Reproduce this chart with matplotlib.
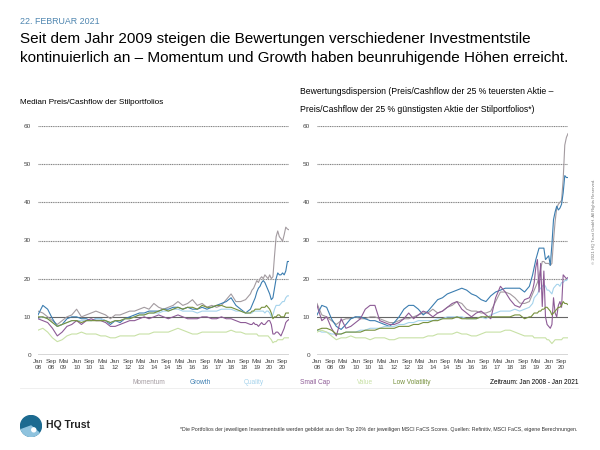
import matplotlib
matplotlib.use("Agg")
import matplotlib.pyplot as plt
from matplotlib.patches import Circle, Wedge

plt.rcParams['font.family'] = ['Liberation Sans', 'DejaVu Sans']

# Zeitachse in Monaten seit Jan 2008: bis Okt 2018 quartalsweise, danach monatlich
months = list(range(0, 132, 3)) + list(range(132, 157))

tick_months = list(range(0, 153, 8))
tick_labels = ["Jan\n08", "Sep\n08", "Mai\n09", "Jan\n10", "Sep\n10", "Mai\n11", "Jan\n12",
               "Sep\n12", "Mai\n13", "Jan\n14", "Sep\n14", "Mai\n15", "Jan\n16", "Sep\n16",
               "Mai\n17", "Jan\n18", "Sep\n18", "Mai\n19", "Jan\n20", "Sep\n20"]
y_ticks = [0, 10, 20, 30, 40, 50, 60]

styles = ["Momentum", "Growth", "Quality", "Small Cap", "Value", "Low Volatility"]
colors = ["#a39ba0", "#3b7db0", "#a5d3ec", "#8d5b96", "#c8e1a6", "#76903c"]

# --- linkes Chart: Median Preis/Cashflow ---
mom_l = [11.5, 11.0, 10.0, 9.0, 8.0, 9.0, 10.0, 10.5, 12.0, 10.0, 10.5, 11.0,
         11.5, 11.0, 10.5, 9.5, 10.5, 10.5, 11.0, 11.5, 11.5, 12.0, 12.5, 12.0,
         13.5, 12.5, 12.0, 12.5, 13.0, 14.0, 13.0, 13.5, 14.5, 13.0, 13.5, 12.5,
         13.0, 12.5, 13.0, 14.5, 16.0, 14.0, 14.0, 14.5,
         16.0, 17.0, 17.5, 18.5, 19.5, 19.0, 20.0, 20.5, 20.0, 21.0, 20.5, 20.0,
         21.0, 20.0, 20.5, 26.0, 31.0, 32.5, 31.0, 30.5, 29.8, 31.5, 33.5, 33.0,
         32.8]
growth_l = [10.5, 13.0, 12.0, 9.5, 7.5, 8.0, 9.5, 10.0, 10.0, 9.5, 9.5, 9.0,
            9.5, 9.5, 9.0, 8.0, 9.0, 8.5, 9.5, 10.0, 10.5, 11.0, 11.0, 11.5,
            11.5, 11.5, 12.0, 12.0, 12.5, 12.5, 12.0, 12.5, 12.0, 12.0, 12.5, 12.0,
            12.5, 13.0, 13.5, 14.0, 15.0, 13.0, 12.0, 11.0,
            12.0, 13.0, 14.0, 15.0, 16.5, 17.5, 18.0, 19.0, 19.5, 19.0, 18.0, 17.0,
            16.0, 14.5, 15.0, 17.5, 20.0, 21.5, 21.0, 21.0, 21.5, 21.0, 22.0, 24.5,
            24.5]
quality_l = [9.5, 10.0, 9.5, 8.5, 7.5, 8.0, 8.5, 9.0, 9.0, 9.0, 9.0, 9.0,
             9.5, 9.5, 9.0, 8.5, 9.0, 9.0, 9.5, 9.5, 10.0, 10.5, 10.5, 11.0,
             11.0, 11.0, 11.5, 11.5, 12.0, 12.0, 11.5, 11.5, 11.5, 11.0, 11.5, 11.5,
             11.5, 11.5, 12.0, 12.0, 12.0, 11.5, 11.5, 11.0,
             11.0, 11.0, 11.5, 11.5, 11.5, 11.5, 11.5, 11.5, 11.5, 11.0, 11.5, 11.5,
             11.0, 10.0, 10.5, 12.0, 13.0, 13.0, 13.0, 13.5, 14.0, 14.0, 15.0, 15.5,
             15.5]
small_l = [9.5, 9.0, 8.5, 7.0, 5.0, 6.0, 7.5, 8.0, 9.0, 8.0, 9.0, 9.5,
           9.0, 9.0, 8.5, 7.5, 7.5, 8.0, 8.5, 9.0, 9.0, 9.5, 10.0, 9.5,
           10.0, 10.5, 10.0, 9.5, 10.0, 10.5, 10.0, 9.5, 9.5, 9.5, 10.0, 10.0,
           9.5, 9.5, 10.0, 9.5, 9.5, 9.0, 8.5, 8.5,
           8.0, 8.0, 8.5, 8.0, 8.0, 7.5, 8.0, 8.5, 8.0, 8.0, 8.5, 9.0,
           9.0, 8.0, 5.5, 5.5, 6.0, 6.0, 5.5, 5.0, 6.0, 7.0, 8.5, 9.0,
           9.3]
value_l = [6.5, 7.0, 6.0, 4.5, 3.5, 4.0, 5.0, 5.5, 5.5, 6.0, 5.5, 5.5,
           5.5, 5.0, 5.0, 4.5, 4.5, 5.0, 5.0, 5.0, 5.0, 5.5, 5.5, 5.5,
           6.0, 6.0, 6.0, 6.0, 6.5, 7.0, 6.5, 6.0, 5.5, 5.5, 6.0, 6.0,
           6.0, 6.0, 6.0, 6.0, 6.5, 6.0, 6.0, 5.5,
           5.5, 5.5, 5.5, 5.5, 5.5, 5.0, 5.0, 5.0, 5.0, 5.0, 5.0, 5.0,
           4.5, 4.0, 3.2, 3.5, 3.5, 4.0, 4.0, 4.0, 4.0, 4.5, 4.5, 4.5,
           4.5]
lowvol_l = [10.0, 10.0, 9.5, 8.5, 7.5, 8.0, 8.5, 9.0, 9.0, 8.5, 9.0, 9.0,
            9.0, 9.0, 9.0, 8.5, 9.0, 9.0, 9.5, 9.5, 10.0, 10.5, 10.5, 11.0,
            11.0, 11.5, 12.0, 11.5, 12.0, 12.5, 12.0, 12.5, 12.5, 12.0, 13.0, 12.5,
            12.5, 13.0, 13.0, 12.5, 12.5, 12.0, 11.5, 11.0,
            11.0, 11.5, 11.5, 12.0, 12.0, 12.0, 12.0, 12.5, 12.5, 12.5, 13.0, 12.5,
            12.0, 11.0, 9.5, 10.0, 10.0, 10.5, 10.5, 10.0, 10.0, 10.0, 11.0, 11.0,
            11.0]

# --- rechtes Chart: Bewertungsdispersion ---
mom_r = [13.5, 10.5, 10.0, 9.0, 8.0, 9.0, 9.5, 9.5, 10.0, 9.5, 9.5, 10.0,
         10.0, 9.5, 9.0, 8.5, 8.5, 9.0, 9.5, 9.5, 10.0, 10.5, 11.0, 11.0,
         12.0, 11.0, 11.5, 12.5, 13.0, 14.0, 13.5, 12.0, 11.5, 11.5, 11.0, 11.0,
         11.5, 14.0, 16.5, 16.5, 16.0, 15.0, 13.6, 13.5,
         14.0, 15.0, 16.0, 17.0, 18.0, 19.0, 20.5, 22.5, 24.5, 24.5, 24.0, 24.0,
         24.0, 23.5, 24.0, 30.0, 35.0, 38.5, 39.5, 40.0, 40.5, 46.0, 55.0, 57.0,
         58.0]
growth_r = [10.5, 13.0, 12.5, 9.5, 7.5, 6.7, 8.0, 9.5, 10.0, 10.0, 9.5, 9.0,
            9.0, 8.5, 8.0, 7.5, 8.5, 10.0, 12.0, 13.0, 13.0, 12.0, 10.5, 11.5,
            13.0, 14.5, 15.0, 16.0, 16.5, 17.0, 17.5, 17.0, 16.0, 15.5, 14.5, 14.0,
            15.5, 16.5, 17.0, 17.5, 17.5, 17.5, 17.5, 16.5,
            18.0, 19.5, 21.0, 23.0, 25.0, 26.5, 28.0, 28.0, 28.0, 28.0, 25.0, 25.5,
            26.0, 23.5, 29.0, 35.5, 37.5, 39.0, 38.0, 38.5, 39.5, 42.5, 47.0, 46.5,
            46.5]
quality_r = [6.5, 6.0, 6.0, 5.5, 5.5, 5.5, 6.0, 6.0, 6.0, 6.5, 6.5, 7.0,
             7.0, 7.0, 7.5, 7.5, 7.5, 8.0, 8.0, 8.5, 8.5, 9.0, 9.0, 9.0,
             9.0, 9.5, 9.5, 10.0, 10.0, 10.0, 10.0, 9.5, 9.5, 9.5, 10.0, 9.5,
             10.5, 11.0, 11.5, 11.5, 11.5, 12.0, 11.5, 12.0,
             12.5, 13.0, 13.5, 15.0, 15.5, 16.0, 17.0, 17.5, 18.0, 18.5, 18.0, 17.0,
             17.0, 16.5, 16.0, 17.5, 18.0, 18.5, 18.5, 18.0, 19.0, 19.0, 19.5, 19.5,
             20.0]
small_r = [13.0, 9.0, 10.0, 7.0, 5.0, 9.5, 7.0, 7.5, 8.5, 9.5, 12.0, 13.0,
           13.0, 9.0, 8.5, 8.0, 8.0, 8.5, 9.5, 11.0, 9.5, 10.5, 11.5, 11.0,
           10.0, 11.0, 11.5, 12.5, 13.5, 14.0, 12.0, 11.0, 10.0, 11.0, 11.5, 10.5,
           9.5, 15.0, 18.0, 16.5, 14.5, 13.0, 12.5, 14.5,
           15.0, 16.0, 17.0, 19.0, 23.0, 25.0, 16.5, 24.0, 12.7, 22.0, 10.0, 8.0,
           7.5, 7.0, 8.0, 15.0, 11.0, 10.0, 13.0, 14.0, 12.5, 21.0, 20.5, 20.0,
           20.3]
value_r = [6.0, 6.5, 6.0, 5.0, 4.0, 4.5, 4.5, 5.0, 4.5, 4.5, 4.5, 4.0,
           4.5, 4.5, 4.5, 4.0, 4.0, 4.5, 4.5, 4.5, 4.5, 4.5, 4.5, 5.0,
           5.0, 5.5, 5.5, 5.5, 5.5, 6.0, 5.5, 5.5, 5.0, 5.0, 5.5, 6.0,
           6.0, 6.0, 6.0, 6.5, 6.5, 6.0, 5.5, 5.0,
           5.0, 5.0, 5.0, 4.5, 4.5, 4.5, 4.5, 4.5, 4.5, 4.5, 4.5, 4.0,
           4.0, 3.5, 3.0, 3.5, 4.0, 4.0, 4.0, 4.0, 4.0, 4.5, 4.5, 4.5,
           4.5]
lowvol_r = [6.5, 7.0, 7.0, 6.5, 5.5, 5.5, 6.0, 6.0, 6.0, 6.0, 6.5, 6.5,
            6.5, 7.0, 7.0, 7.0, 7.0, 7.5, 7.5, 7.5, 8.0, 8.0, 8.5, 8.5,
            9.0, 9.0, 9.5, 9.5, 9.5, 10.0, 9.5, 9.5, 9.5, 9.5, 10.0, 10.0,
            10.0, 10.0, 10.0, 10.0, 10.0, 10.5, 10.5, 9.5,
            10.0, 10.0, 10.5, 11.0, 11.0, 11.0, 11.5, 11.5, 12.0, 12.0, 12.5, 12.5,
            12.0, 11.5, 10.5, 11.0, 11.5, 12.0, 12.5, 12.5, 13.0, 14.0, 13.5, 13.5,
            13.2]

W, H = 600, 450


def fx(px):
    return px / W


def fy(py):
    return 1 - py / H


def draw_panel(ax, series):
    for y in y_ticks:
        if y == 0:
            ax.axhline(y, color="#333333", lw=1.0, zorder=1)
        elif y == 10:
            ax.axhline(y, color="#666666", lw=0.8, zorder=1)
        else:
            ax.axhline(y, color="#858585", lw=0.8, ls=(0, (1, 0.6)), zorder=1)
    for vals, c in zip(series, colors):
        ax.plot(months, vals, color=c, lw=0.8, zorder=2)
    ax.set_xlim(0, 156)
    ax.set_ylim(0, 60)
    ax.set_yticks(y_ticks)
    ax.set_xticks(tick_months)
    ax.set_xticklabels(tick_labels, linespacing=1.3)
    ax.tick_params(length=0, labelsize=4.6, colors="#444444")
    ax.tick_params(axis="y", pad=5)
    ax.tick_params(axis="x", pad=3)
    for s in ax.spines.values():
        s.set_visible(False)
    ax.patch.set_alpha(0)


fig = plt.figure(figsize=(6, 4.5), dpi=100)

ax_l = fig.add_axes([fx(38), fy(355), fx(251), (355 - 126) / H])
ax_r = fig.add_axes([fx(317), fy(355), fx(251), (355 - 126) / H])
draw_panel(ax_l, [mom_l, growth_l, quality_l, small_l, value_l, lowvol_l])
draw_panel(ax_r, [mom_r, growth_r, quality_r, small_r, value_r, lowvol_r])

# Kopfzeilen
fig.text(fx(20), fy(22), "22. FEBRUAR 2021", fontsize=6.4, color="#4f86b0", va="center")
fig.text(fx(20), fy(39), "Seit dem Jahr 2009 steigen die Bewertungen verschiedener Investmentstile",
         fontsize=10.95, va="center")
fig.text(fx(20), fy(58), "kontinuierlich an \u2013 Momentum und Growth haben beunruhigende H\u00f6hen erreicht.",
         fontsize=10.95, va="center")
fig.text(fx(20), fy(102), "Median Preis/Cashflow der Stilportfolios", fontsize=5.85, va="center")
fig.text(fx(300), fy(91), "Bewertungsdispersion (Preis/Cashflow der 25 % teuersten Aktie \u2013",
         fontsize=6.2, va="center")
fig.text(fx(300), fy(109), "Preis/Cashflow der 25 % g\u00fcnstigsten Aktie der Stilportfolios*)",
         fontsize=6.2, va="center")

# Legende als farbige Texte
legend_x = [149, 200, 254, 315, 365, 412]
for name, c, x in zip(styles, colors, legend_x):
    fig.text(fx(x), fy(382), name, color=c, fontsize=4.7, ha="center", va="center")
fig.text(fx(578), fy(382), "Zeitraum: Jan 2008 - Jan 2021", fontsize=4.7, ha="right", va="center")
fig.add_artist(plt.Line2D([fx(20), fx(578)], [fy(388), fy(388)], color="#ececec", lw=0.6))

# Logo
ax_logo = fig.add_axes([fx(20), fy(437), fx(22), 22 / H])
ax_logo.set_xlim(-1, 1)
ax_logo.set_ylim(-1, 1)
ax_logo.set_aspect("equal")
ax_logo.axis("off")
ax_logo.add_patch(Circle((0, 0), 0.95, color="#1c6a90"))
ax_logo.add_patch(Wedge((0, 0), 0.95, 200, 320, color="#8fc3de"))
ax_logo.add_patch(Circle((0.25, -0.35), 0.18, color="white"))
fig.text(fx(46), fy(425), "HQ Trust", fontsize=7.5, fontweight="bold", va="center", color="#222222")

fig.text(fx(578), fy(430),
         "*Die Portfolios der jeweiligen Investmentstile werden gebildet aus den Top 20% der jeweiligen "
         "MSCI FaCS Scores. Quellen: Refinitiv, MSCI FaCS, eigene Berechnungen.",
         fontsize=3.8, ha="right", va="center", color="#333333")

fig.text(fx(594), fy(221), "\u00a9 2021 HQ Trust GmbH. All Rights Reserved.", fontsize=3.1,
         rotation=90, ha="center", va="center", color="#777777")

fig.savefig("out.png", dpi=100)
